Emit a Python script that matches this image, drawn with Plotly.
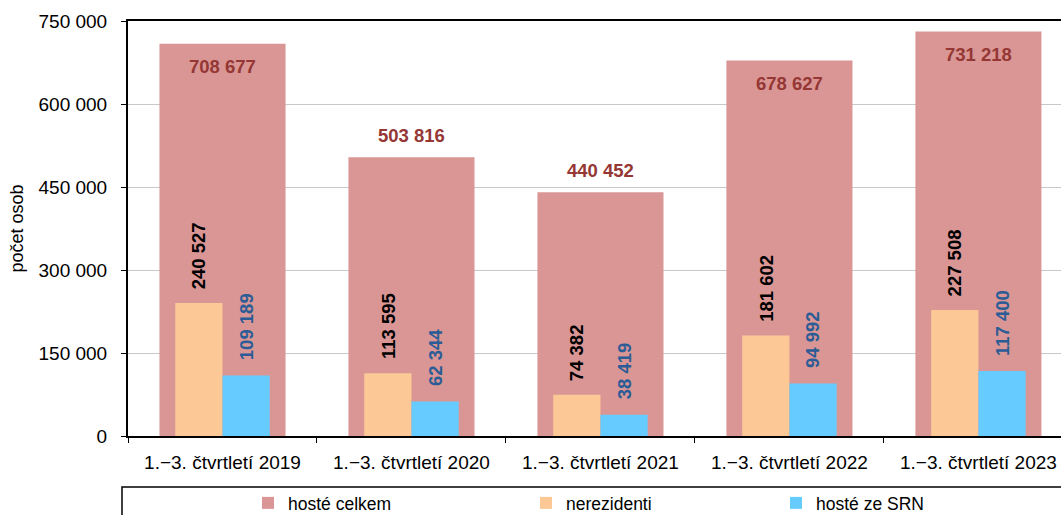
import plotly.graph_objects as go

categories = ["1.−3. čtvrtletí 2019", "1.−3. čtvrtletí 2020", "1.−3. čtvrtletí 2021",
              "1.−3. čtvrtletí 2022", "1.−3. čtvrtletí 2023"]
hoste_celkem = [708677, 503816, 440452, 678627, 731218]
nerezidenti = [240527, 113595, 74382, 181602, 227508]
hoste_srn = [109189, 62344, 38419, 94992, 117400]
y_ticks = [0, 150000, 300000, 450000, 600000, 750000]

# style: whether the total label sits inside the bar top or above the bar
total_label_inside = [True, False, False, True, True]

C_TOTAL = "#D99694"
C_NEREZ = "#FCC996"
C_SRN = "#66CCFF"
C_TOTAL_TXT = "#953735"
C_SRN_TXT = "#2B5C96"
FONT = "Liberation Sans, Arial, sans-serif"
TICK_SIZE = 19
LABEL_SIZE = 18.5


def fmt(v):
    return f"{v:,}".replace(",", " ")


fig = go.Figure()
fig.add_trace(go.Bar(name="hosté celkem", x=categories, y=hoste_celkem,
                     width=0.667, offset=-0.3335, marker_color=C_TOTAL,
                     marker_line_width=0, legend="legend"))
fig.add_trace(go.Bar(name="nerezidenti", x=categories, y=nerezidenti,
                     width=0.25, offset=-0.25, marker_color=C_NEREZ,
                     marker_line_width=0, legend="legend2"))
fig.add_trace(go.Bar(name="hosté ze SRN", x=categories, y=hoste_srn,
                     width=0.25, offset=0.0, marker_color=C_SRN,
                     marker_line_width=0, legend="legend3"))

ann = []
for i, v in enumerate(hoste_celkem):
    ann.append(dict(x=i, y=v, xref="x", yref="y", text=f"<b>{fmt(v)}</b>",
                    showarrow=False, yanchor="middle",
                    yshift=-23 if total_label_inside[i] else 22,
                    font=dict(family=FONT, size=LABEL_SIZE, color=C_TOTAL_TXT)))
for i, v in enumerate(nerezidenti):
    ann.append(dict(x=i - 0.125, y=v, xref="x", yref="y", text=f"<b>{fmt(v)}</b>",
                    showarrow=False, yanchor="bottom", textangle=-90, yshift=12,
                    font=dict(family=FONT, size=LABEL_SIZE, color="#000000")))
for i, v in enumerate(hoste_srn):
    ann.append(dict(x=i + 0.125, y=v, xref="x", yref="y", text=f"<b>{fmt(v)}</b>",
                    showarrow=False, yanchor="bottom", textangle=-90, yshift=13,
                    font=dict(family=FONT, size=LABEL_SIZE, color=C_SRN_TXT)))

# page body margin is removed by the post script, so the figure starts at 0,0
W, H = 1061, 515
L = 128
T = 21
BOTTOM = 436
B = H - BOTTOM
pw = W - L
ph = BOTTOM - T


def py(ypix):  # page pixel y -> paper y
    return (BOTTOM - ypix) / ph


def px(xpix):  # page pixel x -> paper x
    return (xpix - L) / pw


def legend_at(xpix):
    return dict(orientation="h", x=px(xpix), xanchor="left",
                y=py(485), yanchor="top",
                font=dict(family=FONT, size=17.5, color="#000000"),
                itemclick=False, bgcolor="rgba(0,0,0,0)")


fig.update_layout(
    width=W, height=H,
    margin=dict(l=L, r=0, t=T, b=B, pad=0, autoexpand=False),
    plot_bgcolor="white", paper_bgcolor="white",
    barmode="overlay",
    separators=", ",
    font=dict(family=FONT, size=TICK_SIZE, color="#000000"),
    annotations=ann,
    showlegend=True,
    legend=legend_at(248),
    legend2=legend_at(526),
    legend3=legend_at(776),
    shapes=[dict(type="rect", xref="paper", yref="paper",
                 x0=px(122), x1=1.05, y0=py(487), y1=py(560),
                 line=dict(color="#000000", width=1.5), fillcolor="rgba(0,0,0,0)",
                 layer="above")],
    hovermode=False,
)

fig.update_xaxes(
    type="category", range=[-0.5, 4.437],
    showline=True, linecolor="#000000", linewidth=2, mirror=True,
    ticks="outside", tickson="boundaries", ticklen=5, tickcolor="#000000",
    tickfont=dict(family=FONT, size=TICK_SIZE, color="#000000"),
    ticklabelstandoff=8,
    showgrid=False,
)
fig.update_yaxes(
    range=[0, 750000], tickvals=y_ticks, tickformat=",d",
    showline=True, linecolor="#000000", linewidth=2, mirror=False,
    ticks="outside", ticklen=5, tickcolor="#000000",
    tickfont=dict(family=FONT, size=TICK_SIZE, color="#000000"),
    ticklabelstandoff=10,
    showgrid=True, gridcolor="#C8C8C8", gridwidth=1,
    zeroline=False,
    title=dict(text="počet osob", font=dict(family=FONT, size=18, color="#000000"),
               standoff=10),
)

fig.write_html("out.html",
               config={"displayModeBar": False},
               post_script="document.body.style.margin='0';"
                           "document.documentElement.style.overflow='hidden';"
                           "document.body.style.overflow='hidden';")
